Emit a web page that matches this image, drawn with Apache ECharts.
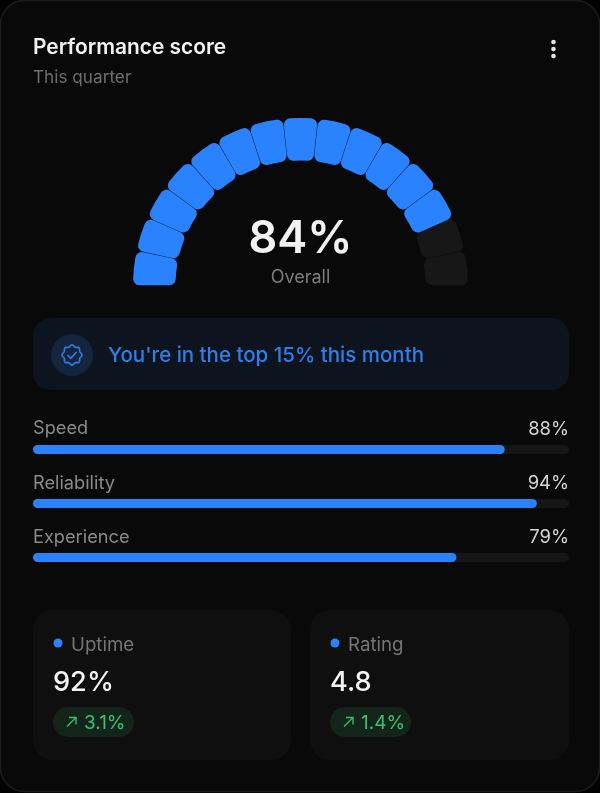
<!DOCTYPE html>
<html><head><meta charset="utf-8">
<style>html,body{margin:0;padding:0;background:#000}#c{width:600px;height:793px}</style>
<script src="https://cdn.jsdelivr.net/npm/echarts@6/dist/echarts.min.js"></script>
</head><body><div id="c"></div>
<script>
const gaugeSegments = [1,1,1,1,1,1,1,1,1,1,1,1,1,1,1];
const gaugeFilled = 13;
const overallLabel = '84%';
const barCategories = ['Speed','Reliability','Experience'];
const barValues = [88,94,79];
const stats = [
  {name:'Uptime', value:'92%', delta:'3.1%'},
  {name:'Rating', value:'4.8', delta:'1.4%'}
];

const FONT = 'Inter, "Noto Sans", sans-serif';
const BLUE = '#2b82ff';
const chart = echarts.init(document.getElementById('c'), null, {renderer:'canvas'});

function txt(x,y,text,size,fill,weight,align){
  return {type:'text',x,y,silent:true,style:{text,fontFamily:FONT,fontSize:size,fill,fontWeight:weight||400,align:align||'left',verticalAlign:'middle'}};
}
const badge = [];
for(let k=0;k<96;k++){
  const t = k/96*Math.PI*2, r = 9.2+0.8*Math.cos(8*t);
  badge.push([72+r*Math.cos(t),355+r*Math.sin(t)]);
}
const bg = [
  {type:'rect',z:-10,shape:{x:0.5,y:0.5,width:599,height:791,r:24},style:{fill:'#090909',stroke:'#1c1c1c',lineWidth:1.5}},
  txt(33,48,'Performance score',20.9,'#f2f2f2',600),
  txt(33,78,'This quarter',17.2,'#6e6e6e'),
  {type:'circle',shape:{cx:553.5,cy:42,r:2.3},style:{fill:'#e6e6e6'}},
  {type:'circle',shape:{cx:553.5,cy:49,r:2.3},style:{fill:'#e6e6e6'}},
  {type:'circle',shape:{cx:553.5,cy:56,r:2.3},style:{fill:'#e6e6e6'}},
  txt(300.5,239,overallLabel,45,'#f2f2f2',600,'center'),
  txt(300.5,278,'Overall',18,'#7c7c7c',400,'center'),
  {type:'rect',shape:{x:33,y:318,width:536,height:72,r:18},style:{fill:'#0d1420'}},
  {type:'circle',shape:{cx:72,cy:355,r:21},style:{fill:'#14253d'}},
  {type:'polygon',shape:{points:badge},style:{fill:'none',stroke:'#2f7fe8',lineWidth:1.6}},
  {type:'polyline',shape:{points:[[67.5,355],[70.8,358.3],[76.5,352]]},style:{fill:'none',stroke:'#2f7fe8',lineWidth:1.6}},
  txt(108,356,"You're in the top 15% this month",20.5,'#2f7fe8',500)
];
barCategories.forEach((c,i)=>{
  const y = 429 + i*54.3;
  bg.push(txt(33,y,c,18.2,'#8a8a8a'));
  bg.push(txt(569,y,barValues[i]+'%',18.4,'#d6d6d6',400,'right'));
});
stats.forEach((s,i)=>{
  const x = i===0?33:310, w = i===0?258:259;
  bg.push({type:'rect',z:-5,shape:{x,y:610,width:w,height:150,r:20},style:{fill:'#0f0f0f'}});
  bg.push({type:'circle',shape:{cx:x+25,cy:643,r:4.5},style:{fill:BLUE}});
  bg.push(txt(x+38,645,s.name,18.7,'#757575'));
  bg.push(txt(x+20,683,s.value,27.2,'#f4f4f4',500));
  bg.push({type:'rect',shape:{x:x+20,y:707,width:81,height:30,r:15},style:{fill:'#13241a'}});
  bg.push({type:'polyline',shape:{points:[[x+34,726.5],[x+43,717.5]]},style:{fill:'none',stroke:'#3fc06f',lineWidth:1.3}});
  bg.push({type:'polyline',shape:{points:[[x+36,717.5],[x+43,717.5],[x+43,724.5]]},style:{fill:'none',stroke:'#3fc06f',lineWidth:1.3}});
  bg.push(txt(x+51,723,s.delta,19,'#3fc06f'));
});

chart.setOption({
  animation:false,
  backgroundColor:'transparent',
  graphic:{elements:bg},
  grid:{left:33,width:536,top:422.5,height:162,containLabel:false},
  xAxis:{type:'value',min:0,max:100,show:false},
  yAxis:{type:'category',inverse:true,data:barCategories,show:false},
  series:[
    {type:'pie',silent:true,z:5,center:[300.5,285.5],radius:[125,167.5],startAngle:180,endAngle:0,padAngle:0.15,
     label:{show:false},labelLine:{show:false},
     itemStyle:{borderRadius:6.5},
     data:gaugeSegments.map((v,i)=>({value:v,itemStyle:{color:i<gaugeFilled?BLUE:'#171717'}}))},
    {type:'bar',silent:true,data:barValues,barWidth:9,showBackground:true,
     backgroundStyle:{color:'#161616',borderRadius:4.5},
     itemStyle:{color:BLUE,borderRadius:4.5}}
  ]
});
</script></body></html>
